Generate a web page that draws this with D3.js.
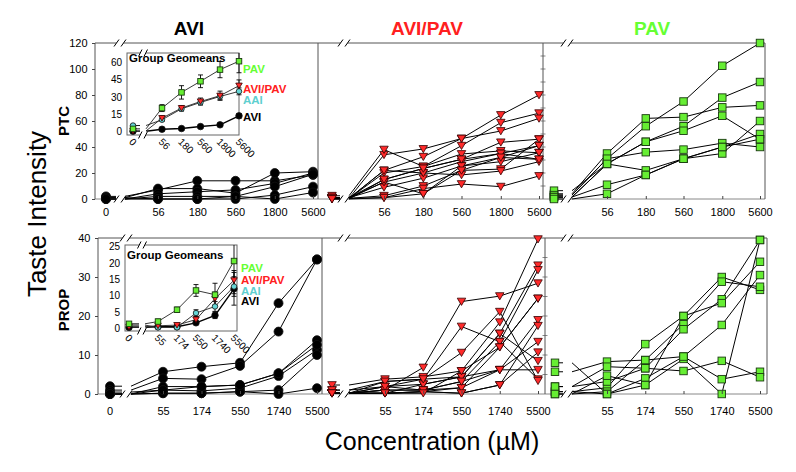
<!DOCTYPE html>
<html><head><meta charset="utf-8">
<script src="https://cdn.jsdelivr.net/npm/d3@7"></script>
<style>body{margin:0;background:#fff}</style>
</head><body><svg id="c" width="796" height="472"></svg>
<script>
// ---------- data ----------
const groups = ["AVI", "AVI/PAV", "PAV"];
const insetGroups = ["PAV", "AVI/PAV", "AAI", "AVI"];
const concPTC = [0, 56, 180, 560, 1800, 5600];
const concPROP = [0, 55, 174, 550, 1740, 5500];
const ticksPTC = [0, 20, 40, 60, 80, 100, 120];
const ticksPROP = [0, 10, 20, 30, 40];
const insetTicksPTC = [0, 15, 30, 45, 60];
const insetTicksPROP = [0, 5, 10, 15, 20, 25];

const ptcAVI = [
  [2, 7, 14, 14, 14, 18.5],
  [1, 8, 8, 4.5, 20, 21],
  [0, 4, 5.6, 7, 12, 20],
  [0, 2, 2, 2, 9.5, 19],
  [1, 0, 0, 0, 3, 9.5],
  [0, 0, 0, 2, 0, 5]
];
const ptcAVIPAV = [
  [0.5, 34, 38.5, 46.5, 64.6, 80],
  [2.5, 38, 25, 41, 58.7, 66],
  [0.5, 22, 32.5, 46.5, 52.3, 62],
  [0.5, 20, 25, 34.6, 37, 35.6],
  [1, 15, 23.5, 30.5, 43.6, 46],
  [0.5, 13, 20, 28.7, 35, 41],
  [1, 9, 16, 25.4, 32, 30.5],
  [0.5, 2.5, 10, 22, 23, 46],
  [0.5, 1, 8, 11.5, 9.5, 17.7],
  [0.5, 22, 20, 18.5, 21.5, 28.7],
  [1, 13, 4, 25.4, 28.7, 35.6],
  [0, 15, 23.5, 30.5, 35, 30.5],
  [0, 1, 4, 22, 32, 41]
];
const ptcPAV = [
  [3, 31, 56, 75, 102.5, 120],
  [4, 35, 62, 63, 70.5, 72],
  [6.4, 27, 44, 56, 78, 90],
  [1.5, 27, 44, 52.5, 64, 46],
  [3, 31, 36, 38, 43, 40],
  [1.5, 27, 22, 31, 35, 60],
  [1.5, 11, 18.5, 31, 40, 50],
  [0, 4, 18.5, 31, 40, 46]
];
const propAVI = [
  [2, 5.7, 7, 8, 23.3, 34.5],
  [1, 4, 3.8, 7.2, 16, 34.5],
  [0, 1.9, 1.9, 2.3, 5.3, 13.8],
  [0.5, 1, 0.8, 1.5, 4.6, 11.3],
  [0, 0.2, 0.2, 0.6, 1, 10],
  [0, 0.2, 0.2, 0.6, 0, 1.5],
  [0, 1, 1.9, 2.3, 5.3, 12.6]
];
const propAVIPAV = [
  [0.2, 1, 6.8, 23.7, 25.1, 28.4],
  [0.2, 1.9, 3.8, 17.3, 13.4, 3.8],
  [1, 3.2, 3.8, 10.6, 21.1, 3.4],
  [2.3, 3.8, 4.4, 5.9, 18.4, 39.7],
  [0.2, 0.2, 2.5, 4.4, 15.5, 33],
  [0.2, 1, 1, 3.2, 13.4, 31.8],
  [0.2, 0.2, 0.6, 1.6, 12, 24.5],
  [1, 1.9, 2.5, 4.4, 6.2, 19],
  [0.2, 0.2, 0.6, 0.2, 2.3, 17.5],
  [0.2, 1, 1, 1.6, 6.2, 13.4],
  [0.2, 0.2, 0.6, 0.2, 2.3, 10.7],
  [0.2, 3.2, 3.8, 4.4, 15.5, 8.5],
  [0.2, 1.9, 1, 3.2, 6.2, 6.2],
  [0.2, 0.2, 0.2, 5.9, 12, 24.5]
];
const propPAV = [
  [0.6, 1.6, 12.8, 20, 30, 26.7],
  [0, 0.6, 8.7, 17.9, 28.8, 27.5],
  [1.9, 3.2, 6.6, 16.6, 24.3, 39.5],
  [0.6, 0, 4, 9.6, 17.7, 30.5],
  [8, 0, 2.3, 9, 0, 39.5],
  [5.7, 8.3, 8.7, 9.6, 3.8, 5.7],
  [1.9, 7, 6.6, 5.9, 8.5, 4.3],
  [0, 4.7, 2.3, 20, 23.3, 33.9]
];

// group geometric means (inset) and error bars
const geoPTC_PAV = [2.3, 20.3, 33.9, 43.5, 53.6, 60.9];
const errPTC_PAV = [0.5, 3, 5.8, 5.5, 7, 10];
const geoPTC_AVIPAV = [0.5, 11.6, 20.3, 26, 31, 39.7];
const errPTC_AVIPAV = [0.3, 2, 2, 3, 4, 5];
const geoPTC_AAI = [5.2, 10.2, 19.7, 25.2, 30.4, 34.8];
const errPTC_AAI = [1, 1.5, 2, 2, 2.5, 3];
const geoPTC_AVI = [0.3, 2, 2.6, 4.3, 5.8, 13.6];
const errPTC_AVI = [0.3, 0.5, 0.5, 0.8, 1, 2];

const geoPROP_PAV = [1.4, 2.1, 5.7, 11.6, 10.3, 20.6];
const errPROP_PAV = [0.5, 0.7, 0.8, 1.8, 3.5, 10];
const geoPROP_AVIPAV = [0.5, 0.8, 1, 2.7, 9.1, 14.7];
const errPROP_AVIPAV = [0.2, 0.3, 0.4, 1, 2, 3];
const geoPROP_AAI = [1, 0.3, 0.3, 4.7, 6.7, 12.8];
const errPROP_AAI = [0.3, 0.2, 0.2, 1, 1.5, 3];
const geoPROP_AVI = [0.3, 0.5, 0.5, 1.7, 4, 12.1];
const errPROP_AVI = [0.2, 0.2, 0.2, 0.6, 1, 5];

// ---------- styles ----------
const FONT = "'Liberation Sans', Arial, sans-serif";
const colors = {"AVI": "#000000", "AVI/PAV": "#ff2020", "PAV": "#66ff33", "AAI": "#5ecfcf"};
const markFill = {"AVI": "#000000", "AVI/PAV": "#ff2a2a", "PAV": "#66ee33", "AAI": "#66d6d6"};
const markType = {"AVI": "circle", "AVI/PAV": "tri", "PAV": "square", "AAI": "circle"};
const svg = d3.select("#c");

function marker(g, type, x, y, s, fill) {
  if (type === "circle") {
    g.append("circle").attr("cx", x).attr("cy", y).attr("r", s / 2)
      .attr("fill", fill).attr("stroke", "#111").attr("stroke-width", 0.8);
  } else if (type === "square") {
    g.append("rect").attr("x", x - s / 2).attr("y", y - s / 2).attr("width", s).attr("height", s)
      .attr("fill", fill).attr("stroke", "#1a3a10").attr("stroke-width", 0.9);
  } else {
    g.append("path").attr("d", `M${x - s / 2},${y - s * 0.4}L${x + s / 2},${y - s * 0.4}L${x},${y + s * 0.45}Z`)
      .attr("fill", fill).attr("stroke", "#300").attr("stroke-width", 0.8);
  }
}

function brk(g, x, y, w, h) {
  g.append("polygon").attr("points", `${x - w - 1},${y + h} ${x - 1},${y - h} ${x + w + 1},${y - h} ${x + 1},${y + h}`)
    .attr("fill", "#fff");
  g.append("line").attr("x1", x - w - 1).attr("y1", y + h).attr("x2", x - 1).attr("y2", y - h)
    .attr("stroke", "#000").attr("stroke-width", 1);
  g.append("line").attr("x1", x + 1).attr("y1", y + h).attr("x2", x + w + 1).attr("y2", y - h)
    .attr("stroke", "#000").attr("stroke-width", 1);
}

function styleAxis(sel, size) {
  sel.attr("font-family", FONT).attr("font-size", size);
  sel.select(".domain").remove();
  sel.selectAll(".tick line").attr("stroke", "#444");
  sel.selectAll("text").attr("fill", "#000");
}

// ---------- main panels ----------
const rows = [
  {label: "PTC", conc: concPTC, ticks: ticksPTC, max: 120, yTop: 43, yBot: 199,
   div: [95, 318, 543, 765], x0: [106, 332, 554], xLo: [158, 384, 607], xHi: [313, 539, 760],
   bc: [120, 344, 567], pad: 9, data: [ptcAVI, ptcAVIPAV, ptcPAV], ly: 121, tickStep: 10},
  {label: "PROP", conc: concPROP, ticks: ticksPROP, max: 40, yTop: 238, yBot: 394,
   div: [98, 322, 545, 767], x0: [110, 332, 555], xLo: [163, 385, 607], xHi: [317, 538, 760],
   bc: [126, 344, 567], pad: 13, data: [propAVI, propAVIPAV, propPAV], ly: 310, tickStep: 5}
];

rows.forEach(row => {
  const y = d3.scaleLinear().domain([0, row.max]).range([row.yBot, row.yTop]);
  const frame = svg.append("g").attr("stroke", "#555").attr("stroke-width", 1);
  frame.append("line").attr("x1", row.div[0]).attr("x2", row.div[3]).attr("y1", row.yTop).attr("y2", row.yTop);
  frame.append("line").attr("x1", row.div[0]).attr("x2", row.div[3]).attr("y1", row.yBot).attr("y2", row.yBot).attr("stroke", "#888");
  row.div.forEach(d => frame.append("line").attr("x1", d).attr("x2", d).attr("y1", row.yTop).attr("y2", row.yBot));
  // small ticks on divider lines
  d3.range(row.tickStep, row.max, row.tickStep).forEach(v => {
    [row.div[2]].forEach(d => frame.append("line").attr("x1", d - 2.5).attr("x2", d + 2.5)
      .attr("y1", y(v)).attr("y2", y(v)).attr("stroke-width", 0.7));
  });

  // y axis
  const ay = d3.axisLeft(y).tickValues(row.ticks).tickSize(3).tickPadding(4.5);
  svg.append("g").attr("transform", `translate(${row.div[0]},0)`).call(ay).call(s => styleAxis(s, 11));

  row.data.forEach((subjects, p) => {
    const grp = groups[p];
    const xl = d3.scaleLog().domain([row.conc[1], row.conc[5]]).range([row.xLo[p], row.xHi[p]]);
    const xAt = i => i === 0 ? row.x0[p] : xl(row.conc[i]);
    const g = svg.append("g");
    const line = d3.line();
    subjects.forEach(s => {
      const y0 = y(s[0]);
      g.append("path").attr("d", line([[row.x0[p], y0], [row.bc[p] - 4, y0]]))
        .attr("fill", "none").attr("stroke", "#000").attr("stroke-width", 1);
      const pts = [[row.bc[p] + 5, y0]].concat(s.slice(1).map((v, i) => [xAt(i + 1), y(v)]));
      g.append("path").attr("d", line(pts)).attr("fill", "none").attr("stroke", "#000").attr("stroke-width", 1);
    });
    // axis breaks
    brk(g, row.bc[p], row.yTop, 5, 3.5);
    brk(g, row.bc[p], row.yBot, 5, 3.5);
    const sz = markType[grp] === "circle" ? 9 : (markType[grp] === "square" ? 7.5 : 8.5);
    subjects.forEach(s => s.forEach((v, i) => marker(g, markType[grp], xAt(i), y(v), sz, markFill[grp])));

    // x axis
    const ax = d3.axisBottom(xl).tickValues(row.conc.slice(1)).tickFormat(d => String(d))
      .tickSize(-3).tickPadding(row.pad);
    const gx = svg.append("g").attr("transform", `translate(0,${row.yBot})`).call(ax);
    styleAxis(gx, 11);
    if (p === 0) {
      gx.append("text").attr("x", row.x0[p]).attr("y", row.pad).attr("dy", "0.71em")
        .attr("text-anchor", "middle").attr("fill", "#000").text("0");
    }
  });

  svg.append("text").attr("transform", `translate(69,${row.ly}) rotate(-90)`)
    .attr("text-anchor", "middle").attr("font-family", FONT).attr("font-weight", "bold")
    .attr("font-size", 15).text(row.label);
});

// ---------- insets ----------
const insets = [
  {conc: concPTC, ticks: insetTicksPTC, dom: [-3, 68], left: 127, right: 239, top: 53, bottom: 135,
   x0: 133, xLo: 162, xHi: 239, bc: 143, tx: 129, ty: 61.5,
   series: [
     {name: "AVI", v: geoPTC_AVI, e: errPTC_AVI},
     {name: "AAI", v: geoPTC_AAI, e: errPTC_AAI},
     {name: "AVI/PAV", v: geoPTC_AVIPAV, e: errPTC_AVIPAV},
     {name: "PAV", v: geoPTC_PAV, e: errPTC_PAV}],
   legend: {x: 243, y: [73, 93, 103.5, 120.5]}},
  {conc: concPROP, ticks: insetTicksPROP, dom: [-0.8, 25.5], left: 125, right: 237, top: 245, bottom: 331,
   x0: 129, xLo: 158, xHi: 234, bc: 142, tx: 127, ty: 258.5,
   series: [
     {name: "AVI", v: geoPROP_AVI, e: errPROP_AVI},
     {name: "AAI", v: geoPROP_AAI, e: errPROP_AAI},
     {name: "AVI/PAV", v: geoPROP_AVIPAV, e: errPROP_AVIPAV},
     {name: "PAV", v: geoPROP_PAV, e: errPROP_PAV}],
   legend: {x: 241, y: [271.5, 284, 294.5, 305]}}
];

insets.forEach((c, k) => {
  const g = svg.append("g");
  const y = d3.scaleLinear().domain(c.dom).range([c.bottom, c.top]);
  const xl = d3.scaleLog().domain([c.conc[1], c.conc[5]]).range([c.xLo, c.xHi]);
  const xAt = i => i === 0 ? c.x0 : xl(c.conc[i]);
  g.append("rect").attr("x", c.left).attr("y", c.top).attr("width", c.right - c.left)
    .attr("height", c.bottom - c.top).attr("fill", "#fff").attr("stroke", "#666").attr("stroke-width", 1);
  const clipId = "clip" + k;
  svg.append("clipPath").attr("id", clipId).append("rect")
    .attr("x", c.left - 6).attr("y", c.top).attr("width", c.right - c.left + 12).attr("height", c.bottom - c.top);

  const ay = d3.axisLeft(y).tickValues(c.ticks).tickSize(0).tickPadding(5);
  g.append("g").attr("transform", `translate(${c.left},0)`).call(ay).call(s => styleAxis(s, 10));

  const ax = d3.axisBottom(xl).tickValues(c.conc.slice(1)).tickSize(0).tickFormat(d => String(d));
  const gx = g.append("g").attr("transform", `translate(0,${c.bottom})`).call(ax);
  styleAxis(gx, 10);
  gx.append("g").attr("class", "tick").attr("transform", `translate(${c.x0},0)`).append("text").text("0");
  gx.selectAll(".tick text").attr("x", 0).attr("y", 0).attr("dy", "0.35em")
    .attr("transform", "translate(-2,5) rotate(45)").attr("text-anchor", "start").attr("fill", "#000");

  const line = d3.line();
  const pg = g.append("g").attr("clip-path", `url(#${clipId})`);
  c.series.forEach(s => {
    const y0 = y(s.v[0]);
    pg.append("path").attr("d", line([[c.x0, y0], [c.bc - 3, y0]])).attr("fill", "none")
      .attr("stroke", "#000").attr("stroke-width", 0.9);
    const pts = [[c.bc + 3, y0]].concat(s.v.slice(1).map((v, i) => [xAt(i + 1), y(v)]));
    pg.append("path").attr("d", line(pts)).attr("fill", "none").attr("stroke", s.name === "AVI" ? "#000" : "#222")
      .attr("stroke-width", s.name === "AVI" ? 1.4 : 0.9);
  });
  brk(g, c.bc, c.bottom, 3.5, 3.5);
  brk(g, c.bc, c.top, 3.5, 3.5);
  c.series.forEach(s => {
    s.v.forEach((v, i) => {
      const x = xAt(i), e = s.e[i];
      if (e > 0.6) {
        pg.append("line").attr("x1", x).attr("x2", x).attr("y1", y(v - e)).attr("y2", y(v + e))
          .attr("stroke", "#000").attr("stroke-width", 0.9);
        [v - e, v + e].forEach(t => pg.append("line").attr("x1", x - 2.5).attr("x2", x + 2.5)
          .attr("y1", y(t)).attr("y2", y(t)).attr("stroke", "#000").attr("stroke-width", 0.9));
      }
    });
  });
  c.series.forEach(s => {
    const t = markType[s.name];
    const sz = t === "square" ? 5.5 : (t === "tri" ? 6.5 : (s.name === "AVI" ? 6.5 : 5.5));
    s.v.forEach((v, i) => marker(g, t, xAt(i), y(v), sz, markFill[s.name]));
  });

  g.append("text").attr("x", c.tx).attr("y", c.ty).attr("font-family", FONT).attr("font-weight", "bold")
    .attr("font-size", 11.5).attr("fill", "#000").text("Group Geomeans");
  insetGroups.forEach((n, i) => {
    g.append("text").attr("x", c.legend.x).attr("y", c.legend.y[i]).attr("font-family", FONT)
      .attr("font-weight", "bold").attr("font-size", 11.5).attr("fill", colors[n]).text(n);
  });
});

// ---------- titles ----------
const titleX = [189, 427, 652];
groups.forEach((n, i) => {
  svg.append("text").attr("x", titleX[i]).attr("y", 35).attr("text-anchor", "middle")
    .attr("font-family", FONT).attr("font-weight", "bold").attr("font-size", 19)
    .attr("fill", colors[n]).text(n);
});
svg.append("text").attr("transform", "translate(46,214) rotate(-90)").attr("text-anchor", "middle")
  .attr("font-family", FONT).attr("font-size", 26).attr("fill", "#000").text("Taste Intensity");
svg.append("text").attr("x", 432).attr("y", 450).attr("text-anchor", "middle")
  .attr("font-family", FONT).attr("font-size", 25).attr("fill", "#000").text("Concentration (\u00B5M)");
</script>
</body></html>
